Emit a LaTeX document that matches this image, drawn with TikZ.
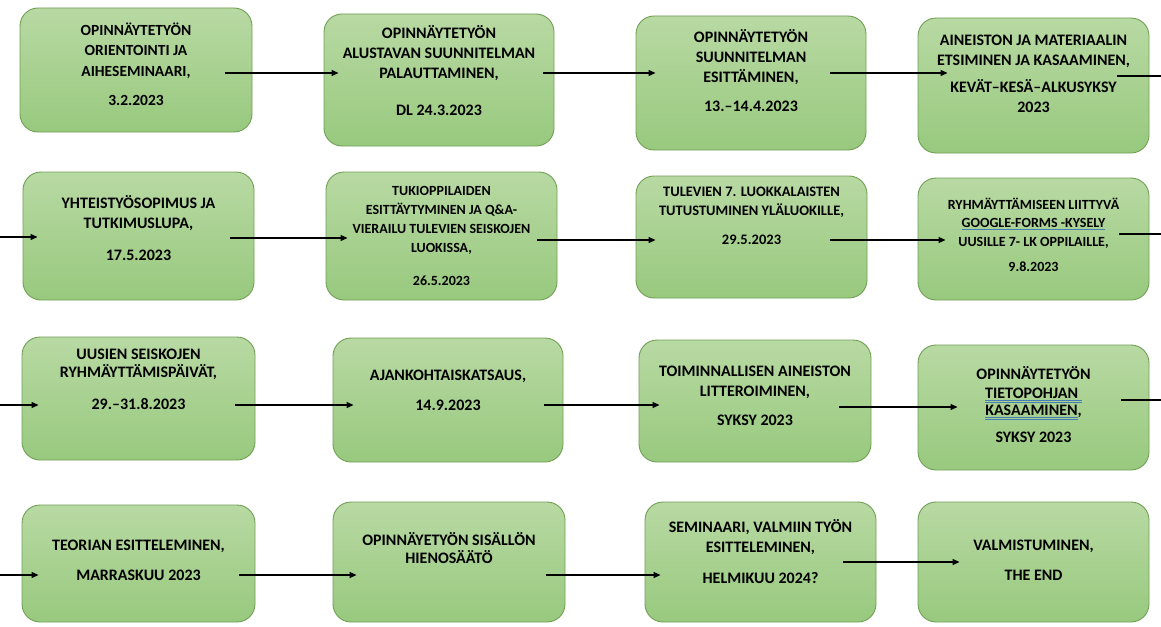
\documentclass[tikz,border=0pt]{standalone}
\usepackage{fontspec}
\setmainfont{Carlito}
\usetikzlibrary{arrows.meta,calc}
\definecolor{boxtop}{RGB}{184,217,163}
\definecolor{boxbot}{RGB}{152,201,126}
\definecolor{boxline}{RGB}{112,160,84}
\definecolor{ulblue}{RGB}{70,125,180}
\newcommand\blueul[1]{{\color{ulblue}\underline{\underline{\color{black}#1}}}}
\newcommand\blueulone[1]{{\color{ulblue}\underline{\color{black}#1}}}
\tikzset{
  stagebox/.style={draw=boxline, line width=0.9pt, rounded corners=18pt,
    top color=boxtop, bottom color=boxbot, inner sep=0pt},
  stagetext/.style={font=\bfseries\fontsize{16}{20}\selectfont, align=center,
    anchor=north, inner sep=0pt},
  firsttext/.style={stagetext, font=\bfseries\fontsize{15.5}{20.5}\selectfont},
  smalltext/.style={stagetext, font=\bfseries\fontsize{14}{19}\selectfont},
  midtext/.style={stagetext, font=\bfseries\fontsize{14.5}{19}\selectfont},
  tinytext/.style={stagetext, font=\bfseries\fontsize{14}{18.5}\selectfont},
  arr/.style={-{Triangle[length=7pt,width=6pt]}, line width=1.1pt, black},
}
\newcommand\stagebox[5]{%
  \node[stagebox, minimum width={#4-#2}, minimum height={#5-#3}]
    (#1) at ({(#2+#4)/2},{(#3+#5)/2}) {};}
\begin{document}
\begin{tikzpicture}[x=1pt,y=-1pt]
\useasboundingbox (0,0) rectangle (1161,626);
% row 1
\stagebox{b1}{20}{8}{252}{132}
\stagebox{b2}{324}{14}{554}{146}
\stagebox{b3}{636}{16}{866}{150}
\stagebox{b4}{918}{18}{1149}{153}
% row 2
\stagebox{b5}{23}{172}{254}{300}
\stagebox{b6}{326}{172}{557}{300}
\stagebox{b7}{636}{176}{867}{298}
\stagebox{b8}{918}{178}{1149}{300}
% row 3
\stagebox{b9}{22}{337}{255}{460}
\stagebox{b10}{333}{338}{563}{462}
\stagebox{b11}{639}{340}{871}{462}
\stagebox{b12}{918}{345}{1149}{470}
% row 4
\stagebox{b13}{22}{505}{255}{622}
\stagebox{b14}{333}{502}{565}{622}
\stagebox{b15}{645}{502}{876}{622}
\stagebox{b16}{918}{502}{1149}{622}

% texts
\node[firsttext] (t1) at ($(b1.north)+(0,15)$) {OPINNÄYTETYÖN\\ORIENTOINTI JA\\AIHESEMINAARI,\\[9pt]3.2.2023};
\node[stagetext] (t2) at ($(b2.north)+(0,12)$) {OPINNÄYTETYÖN\\ALUSTAVAN SUUNNITELMAN\\PALAUTTAMINEN,\\[17pt]DL 24.3.2023};
\node[stagetext] (t3) at ($(b3.north)+(0,14)$) {OPINNÄYTETYÖN\\SUUNNITELMAN\\ESITTÄMINEN,\\[9pt]13.–14.4.2023};
\node[stagetext] (t4) at ($(b4.north)+(0,17)$) {AINEISTON JA MATERIAALIN\\ETSIMINEN JA KASAAMINEN,\\[7pt]KEVÄT–KESÄ–ALKUSYKSY\\2023};
\node[stagetext] (t5) at ($(b5.north)+(0,24)$) {YHTEISTYÖSOPIMUS JA\\TUTKIMUSLUPA,\\[12pt]17.5.2023};
\node[smalltext] (t6) at ($(b6.north)+(0,15)$) {TUKIOPPILAIDEN\\ESITTÄYTYMINEN JA Q\&A-\\VIERAILU TULEVIEN SEISKOJEN\\LUOKISSA,\\[14pt]26.5.2023};
\node[midtext] (t7) at ($(b7.north)+(0,11)$) {TULEVIEN 7. LUOKKALAISTEN\\TUTUSTUMINEN YLÄLUOKILLE,\\[10pt]29.5.2023};
\node[tinytext] (t8) at ($(b8.north)+(0,20)$) {RYHMÄYTTÄMISEEN LIITTYVÄ\\\blueulone{GOOGLE-FORMS -KYSELY}\\UUSILLE 7- LK OPPILAILLE,\\[7pt]9.8.2023};
\node[stagetext] (t9) at ($(b9.north)+(0,12)$) {UUSIEN SEISKOJEN\\[-2pt]RYHMÄYTTÄMISPÄIVÄT,\\[12pt]29.–31.8.2023};
\node[stagetext] (t10) at ($(b10.north)+(0,32)$) {AJANKOHTAISKATSAUS,\\[10pt]14.9.2023};
\node[stagetext] (t11) at ($(b11.north)+(0,26)$) {TOIMINNALLISEN AINEISTON\\LITTEROIMINEN,\\[9pt]SYKSY 2023};
\node[stagetext] (t12) at ($(b12.north)+(0,22)$) {OPINNÄYTETYÖN\\[-1pt]\blueul{TIETOPOHJAN\ }\\[-3pt]\blueul{KASAAMINEN},\\[7pt]SYKSY 2023};
\node[stagetext] (t13) at ($(b13.north)+(0,35)$) {TEORIAN ESITTELEMINEN,\\[10pt]MARRASKUU 2023};
\node[stagetext] (t14) at ($(b14.north)+(0,31)$) {OPINNÄYETYÖN SISÄLLÖN\\[-2pt]HIENOSÄÄTÖ};
\node[stagetext] (t15) at ($(b15.north)+(0,18)$) {SEMINAARI, VALMIIN TYÖN\\ESITTELEMINEN,\\[11pt]HELMIKUU 2024?};
\node[stagetext] (t16) at ($(b16.north)+(0,38)$) {VALMISTUMINEN,\\[10pt]THE END};

% free ends at the picture's edges
\coordinate (out1) at (1161,76);
\coordinate (in2) at (0,237);
\coordinate (out2) at (1161,234);
\coordinate (in3) at (0,405);
\coordinate (out3) at (1161,400);
\coordinate (in4) at (0,575);

% row 1 arrows
\draw[arr] ($(b1.east |- 0,73)+(-27,0)$) -- ($(b2.west |- 0,73)+(15,0)$);
\draw[arr] ($(b2.east |- 0,73)+(-11,0)$) -- ($(b3.west |- 0,73)+(20,0)$);
\draw[arr] ($(b3.east |- 0,73)+(-36,0)$) -- ($(b4.west |- 0,73)+(30,0)$);
\draw[line width=1.1pt] ($(b4.east |- out1)+(-32,0)$) -- (out1);
% row 2 arrows
\draw[arr] (in2) -- ($(b5.west |- in2)+(15,0)$);
\draw[arr] ($(b5.east |- 0,238)+(-24,0)$) -- ($(b6.west |- 0,238)+(22,0)$);
\draw[arr] ($(b6.east |- 0,240)+(-20,0)$) -- ($(b7.west |- 0,240)+(20,0)$);
\draw[arr] ($(b7.east |- 0,240)+(-37,0)$) -- ($(b8.west |- 0,240)+(28,0)$);
\draw[line width=1.1pt] ($(b8.east |- out2)+(-30,0)$) -- (out2);
% row 3 arrows
\draw[arr] (in3) -- ($(b9.west |- in3)+(17,0)$);
\draw[arr] ($(b9.east |- 0,405)+(-20,0)$) -- ($(b10.west |- 0,405)+(21,0)$);
\draw[arr] ($(b10.east |- 0,405)+(-19,0)$) -- ($(b11.west |- 0,405)+(21,0)$);
\draw[arr] ($(b11.east |- 0,407)+(-32,0)$) -- ($(b12.west |- 0,407)+(40,0)$);
\draw[line width=1.1pt] ($(b12.east |- out3)+(-28,0)$) -- (out3);
% row 4 arrows
\draw[arr] (in4) -- ($(b13.west |- in4)+(17,0)$);
\draw[arr] ($(b13.east |- 0,575)+(-16,0)$) -- ($(b14.west |- 0,575)+(24,0)$);
\draw[arr] ($(b14.east |- 0,575)+(-19,0)$) -- ($(b15.west |- 0,575)+(16,0)$);
\draw[arr] ($(b15.east |- 0,562)+(-33,0)$) -- ($(b16.west |- 0,562)+(42,0)$);
\end{tikzpicture}
\end{document}
